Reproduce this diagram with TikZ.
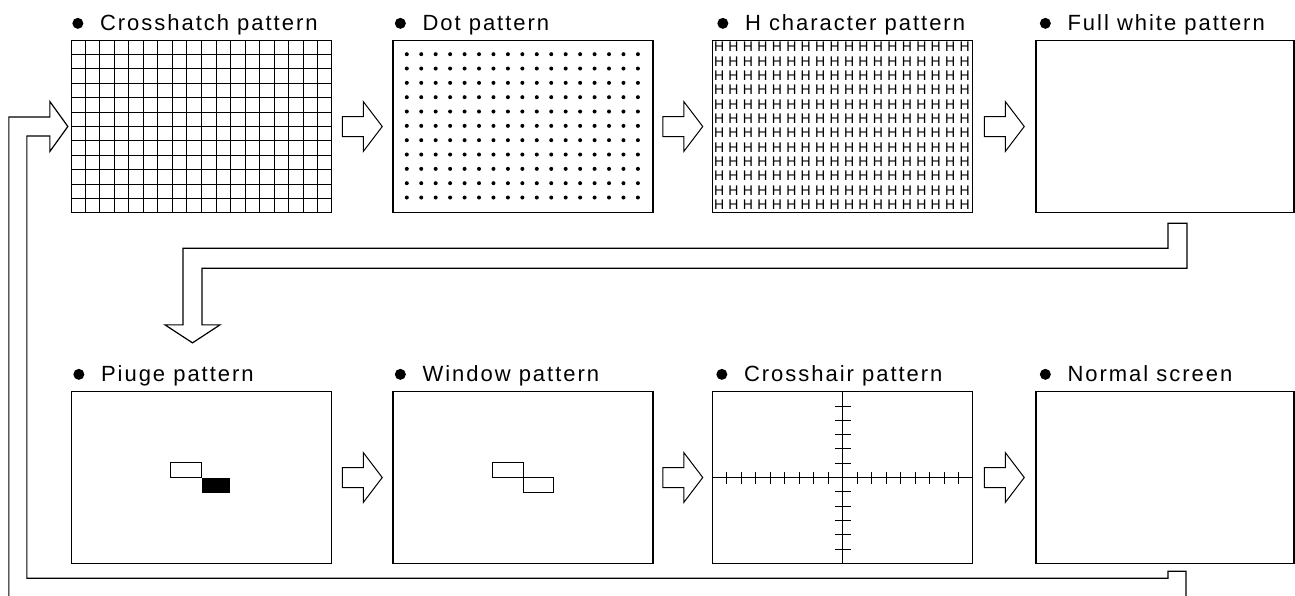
\documentclass[tikz,border=0pt]{standalone}
\usepackage{fontspec}
\setmainfont{Liberation Sans}
\newfontfamily\lblfont[LetterSpace=9]{Liberation Sans}
\usetikzlibrary{calc}
\tikzset{
  screen/.style={draw, line width=1.3pt, minimum width=260pt, minimum height=172pt, inner sep=0pt},
  narrowscreen/.style={screen, minimum width=258pt},
  lbl/.style={font=\lblfont\fontsize{22}{26}\selectfont, inner sep=0pt},
  hchar/.style={font=\fontsize{14}{14}\selectfont, inner sep=0pt},
  gridline/.style={line width=1pt},
  tickline/.style={line width=0.9pt},
  arrowline/.style={line width=1pt, line join=miter},
  pipe/.style={line width=1.2pt, line join=miter},
  shapeline/.style={line width=1pt}
}
\newcommand\hollowarrow[1]{\draw[arrowline] (#1) ++(-20,-10) -- ++(21,0) -- ++(0,-15) -- ++(19,25) -- ++(-19,25) -- ++(0,-15) -- ++(-21,0) -- cycle;}
\newcommand\screenlabel[4]{%
  \node[lbl, anchor=base west] (#2) at ([shift={(#3,-9.5)}]#1.north west) {#4};
  \fill ([shift={(-22,-7)}]#2.base west) circle (5.5pt);}
\begin{document}
\begin{tikzpicture}[x=1pt,y=-1pt]
\useasboundingbox (0,0) rectangle (1295,595);
\clip (0,0) rectangle (1295,595);
% screens
\node[screen] (xh) at (201.5,126.5) {};
\node[screen] (dot) at (523,126.5) {};
\node[screen] (hch) at (842.5,126.5) {};
\node[narrowscreen] (white) at (1165,126.5) {};
\node[screen] (pluge) at (201.5,477.5) {};
\node[screen] (win) at (523,477.5) {};
\node[screen] (hair) at (842.5,477.5) {};
\node[narrowscreen] (normal) at (1165,477.5) {};
% labels
\screenlabel{xh}{lxh}{29}{Crosshatch pattern}
\screenlabel{dot}{ldot}{30}{Dot pattern}
\screenlabel{hch}{lhch}{33}{H character pattern}
\screenlabel{white}{lwhite}{32}{Full white pattern}
\screenlabel{pluge}{lpluge}{30}{Piuge pattern}
\screenlabel{win}{lwin}{30}{Window pattern}
\screenlabel{hair}{lhair}{32}{Crosshair pattern}
\screenlabel{normal}{lnormal}{32}{Normal screen}
% crosshatch
\foreach \i in {1,...,17}
  \draw[gridline] ($(xh.north west)!{\i/18}!(xh.north east)$) -- ($(xh.south west)!{\i/18}!(xh.south east)$);
\foreach \j in {1,...,11}
  \draw[gridline] ($(xh.north west)!{\j/12}!(xh.south west)$) -- ($(xh.north east)!{\j/12}!(xh.south east)$);
% dots
\foreach \i in {1,...,17}
  \foreach \j in {1,...,11}
    \fill ([shift={({\i*260/18},{\j*172/12})}]dot.north west) circle (2pt);
% H characters
\foreach \i in {1,...,18}
  \foreach \j in {1,...,12}
    \node[hchar] (h-\i-\j) at ([shift={({(\i-0.5)*260/18},{(\j-0.5)*172/12})}]hch.north west) {H};
% pluge
\draw[shapeline] ([shift={(-31,-15)}]pluge.center) rectangle ([shift={(0,0)}]pluge.center);
\fill ([shift={(0,0)}]pluge.center) rectangle ([shift={(28,15)}]pluge.center);
% window
\draw[shapeline] ([shift={(-31,-15)}]win.center) rectangle ([shift={(0,0)}]win.center);
\draw[shapeline] ([shift={(0,0)}]win.center) rectangle ([shift={(30,15)}]win.center);
% crosshair
\draw[tickline] (hair.north) -- (hair.south);
\draw[tickline] (hair.west) -- (hair.east);
\foreach \k in {-8,...,-1,1,2,...,8}
  \draw[tickline] ([shift={({\k*14.5},-6)}]hair.center) -- ++(0,12);
\foreach \k in {-5,...,-1,1,2,...,5}
  \draw[tickline] ([shift={(-8,{\k*14.3})}]hair.center) -- ++(16,0);
% arrows between screens
\path (xh.east) -- (dot.west) coordinate[pos=0.5] (m1);
\path (dot.east) -- (hch.west) coordinate[pos=0.5] (m2);
\path (hch.east) -- (white.west) coordinate[pos=0.5] (m3);
\path (pluge.east) -- (win.west) coordinate[pos=0.5] (m4);
\path (win.east) -- (hair.west) coordinate[pos=0.5] (m5);
\path (hair.east) -- (normal.west) coordinate[pos=0.5] (m6);
\hollowarrow{m1}
\hollowarrow{m2}
\hollowarrow{m3}
\hollowarrow{m4}
\hollowarrow{m5}
\hollowarrow{m6}
% pipe from full white to pluge
\coordinate (tA) at ([shift={(3,10)}]white.south);
\coordinate (tB) at ([shift={(-9,-48)}]pluge.north);
\draw[pipe] (tA) -- ++(0,25) -| ($(tB)+(-9.5,-18)$) -- ++(-18,0) -- (tB) -- ++(27.5,-18) -- ++(-18,0) |- ($(tA)+(19,45)$) -- ++(0,-45) -- cycle;
% return pipe from normal screen to crosshatch (outer wall runs below the picture edge)
\coordinate (tC) at ([shift={(3,7)}]normal.south);
\coordinate (tL) at ([shift={(-3,0)}]xh.west);
\draw[pipe] (tC) -- ++(0,7) -| ($(tL)+(-41,9.5)$) -- ++(23,0) -- ++(0,15.5) -- (tL) -- ++(-18,-25) -- ++(0,15.5) -- ++(-41,0) |- ($(tC)+(18,34)$) -- ++(0,-34) -- cycle;
\end{tikzpicture}
\end{document}
